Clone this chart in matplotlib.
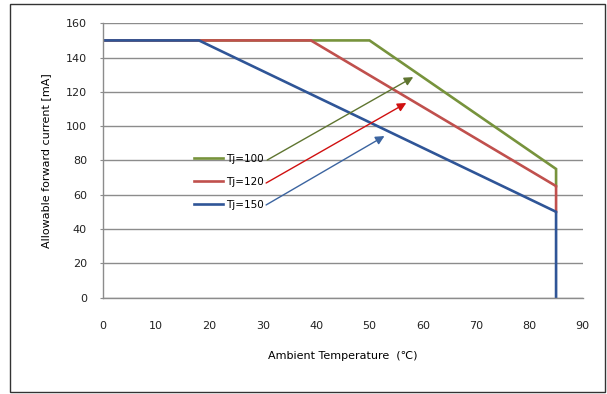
import matplotlib
matplotlib.use("Agg")
import matplotlib.pyplot as plt
from matplotlib.patches import Rectangle

# derating curves
temp_100 = [0, 50, 85, 85]
current_100 = [150, 150, 75, 65]
temp_120 = [0, 39, 85, 85]
current_120 = [150, 150, 65, 50]
temp_150 = [0, 18, 85, 85]
current_150 = [150, 150, 50, 0]

labels = ["Tj=100", "Tj=120", "Tj=150"]
line_colors = ["#77933C", "#C0504D", "#2F5597"]
arrow_colors = ["#5F7530", "#D01010", "#3B64A0"]

# arrows from legend text to curves: (start x, start y, tip x, tip y)
arrow_start_x = [30.8, 30.6, 30.6]
arrow_start_y = [80.2, 66.8, 54.0]
arrow_tip_x = [58.2, 56.9, 52.8]
arrow_tip_y = [128.6, 113.5, 94.2]

x_ticks = list(range(0, 100, 10))
y_ticks = list(range(0, 180, 20))

plt.rcParams["font.family"] = ["DejaVu Sans"]
fig = plt.figure(figsize=(6.07, 3.94), dpi=100)
ax = fig.add_axes([0.1697, 0.2449, 0.7903, 0.696])

grid_color = "#8c8c8c"
ax.set_xlim(0, 90)
ax.set_ylim(0, 160)
ax.set_xticks(x_ticks)
ax.set_yticks(y_ticks)
ax.yaxis.grid(True, color=grid_color, lw=1.0)
ax.set_axisbelow(True)
for side in ["top", "right"]:
    ax.spines[side].set_visible(False)
for side in ["left", "bottom"]:
    ax.spines[side].set_color(grid_color)
    ax.spines[side].set_linewidth(1.0)
ax.tick_params(axis="x", length=0, pad=17, labelsize=8, colors="#222222")
ax.tick_params(axis="y", length=2.5, pad=9, labelsize=8, color=grid_color, labelcolor="#222222")

series = [(temp_100, current_100), (temp_120, current_120), (temp_150, current_150)]
handles = []
for (t, c), lab, col in zip(series, labels, line_colors):
    h, = ax.plot(t, c, color=col, lw=1.9, label=lab, solid_joinstyle="miter")
    handles.append(h)

leg = ax.legend(handles=handles, loc="upper left", bbox_to_anchor=(0.19, 0.524),
                frameon=False, fontsize=7.5, handlelength=2.8, handletextpad=0.3,
                labelspacing=1.25, borderpad=0, borderaxespad=0)

for i in range(len(labels)):
    ax.annotate("", xy=(arrow_tip_x[i], arrow_tip_y[i]),
                xytext=(arrow_start_x[i], arrow_start_y[i]),
                arrowprops=dict(arrowstyle="-|>", color=arrow_colors[i], lw=1.0,
                                mutation_scale=13, shrinkA=0, shrinkB=0))

ax.set_xlabel("Ambient Temperature  (\u2103)", fontsize=8, labelpad=14)
ax.set_ylabel("Allowable forward current [mA]", fontsize=8, labelpad=11)

fig.patches.append(Rectangle((10 / 607, 2 / 394), 595 / 607, 388 / 394,
                             transform=fig.transFigure, fill=False,
                             edgecolor="#333333", lw=1.0))

fig.savefig("out.png", dpi=100)
